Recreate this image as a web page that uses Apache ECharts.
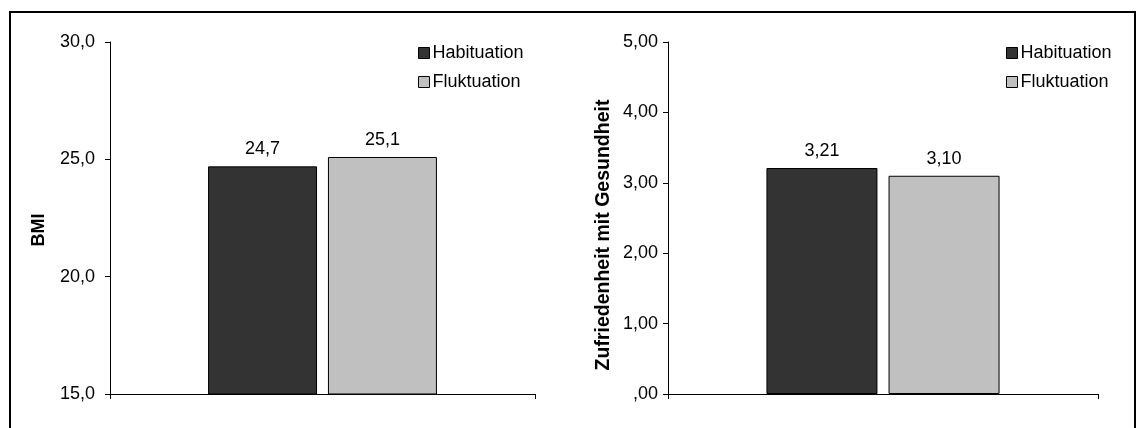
<!DOCTYPE html>
<html><head><meta charset="utf-8">
<script src="https://cdn.jsdelivr.net/npm/echarts@6/dist/echarts.min.js"></script>
<style>html,body{margin:0;padding:0;background:#fff}#c{width:1143px;height:428px}</style>
</head><body><div id="c"></div>
<script>
const seriesNames = ['Habituation', 'Fluktuation'];
const bmiValues = [24.7, 25.1];
const zufValues = [3.21, 3.10];
const bmiTicks = { min: 15, max: 30, interval: 5 };
const zufTicks = { min: 0, max: 5, interval: 1 };
const colors = ['#333333', '#c0c0c0'];

const FONT = 'Arial, "Liberation Sans", sans-serif';
const chart = echarts.init(document.getElementById('c'), null, { renderer: 'canvas' });

function fmt(v, d) {
  let s = Number(v).toFixed(d).replace('.', ',');
  if (s.startsWith('0,')) s = s.slice(1);
  return s;
}

const grids = [
  { left: 110, top: 42, width: 425, height: 352 },
  { left: 668, top: 42, width: 430, height: 352 }
];

function yAxis(idx, ticks, dec, name, nameSize, nameGap, namePad, margin) {
  return {
    type: 'value', gridIndex: idx, min: ticks.min, max: ticks.max, interval: ticks.interval,
    name: name, nameLocation: 'middle', nameRotate: 90, nameGap: nameGap,
    nameTextStyle: { fontFamily: FONT, fontSize: nameSize, fontWeight: 'bold', color: '#000', padding: namePad },
    axisLine: { show: true, lineStyle: { color: '#000', width: 1 } },
    axisTick: { show: true, length: 5, lineStyle: { color: '#000' } },
    splitLine: { show: false },
    axisLabel: { fontFamily: FONT, fontSize: 18, color: '#000', margin: margin, formatter: v => fmt(v, dec) }
  };
}
function xAxis(idx) {
  return {
    type: 'category', gridIndex: idx, data: [''],
    axisLine: { lineStyle: { color: '#000', width: 1 } },
    axisTick: { show: true, length: 5, lineStyle: { color: '#000' } },
    axisLabel: { show: false }
  };
}
function bars(idx, vals, dec, bw) {
  return seriesNames.map((n, i) => ({
    name: n, type: 'bar', xAxisIndex: idx, yAxisIndex: idx,
    data: [vals[i]], barWidth: bw, barGap: '10%',
    itemStyle: { color: colors[i], borderColor: '#000', borderWidth: 1 },
    label: { show: true, position: 'top', distance: 8, fontFamily: FONT, fontSize: 18, color: '#000',
      formatter: p => fmt(p.value, dec) }
  }));
}
function legend(left) {
  return {
    left: left, top: 44, padding: 0, orient: 'vertical', itemGap: 11, itemWidth: 11, itemHeight: 11,
    icon: 'rect', data: seriesNames, selectedMode: false,
    textStyle: { fontFamily: FONT, fontSize: 18, color: '#000', padding: [0, 0, 0, -2] },
    itemStyle: { borderColor: '#000', borderWidth: 1 }
  };
}

chart.setOption({
  animation: false,
  backgroundColor: '#fff',
  grid: grids,
  xAxis: [xAxis(0), xAxis(1)],
  yAxis: [
    yAxis(0, bmiTicks, 1, 'BMI', 18, 62, [0, 24, 0, 0], 15),
    yAxis(1, zufTicks, 2, 'Zufriedenheit mit Gesundheit', 19.5, 54, [0, 34, 0, 0], 10)
  ],
  legend: [legend(418), legend(1006)],
  series: bars(0, bmiValues, 1, 109).concat(bars(1, zufValues, 2, 111)),
  graphic: [{
    type: 'rect', shape: { x: 10, y: 12, width: 1125, height: 500 },
    style: { fill: 'none', stroke: '#000', lineWidth: 2 }, silent: true, z: 100
  }]
});
</script></body></html>
